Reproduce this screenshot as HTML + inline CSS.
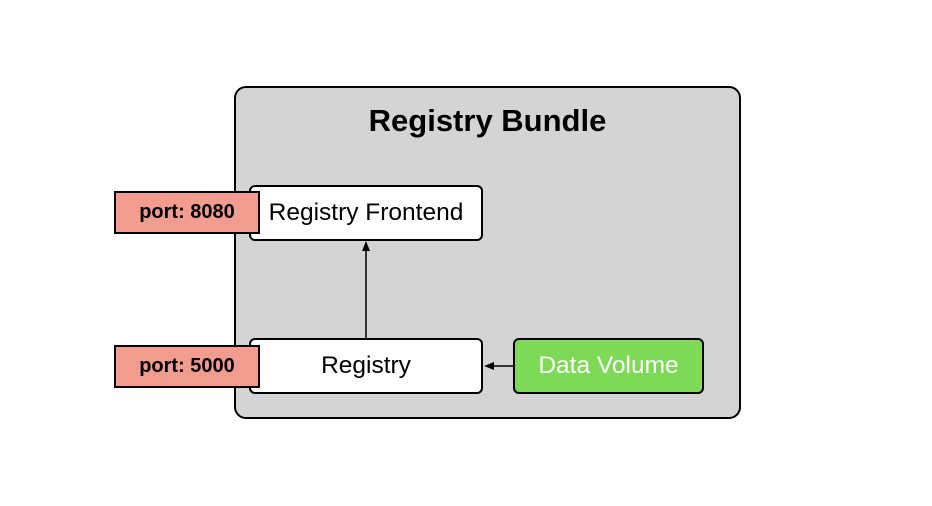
<!DOCTYPE html>
<html><head><style>
body{margin:0;width:932px;height:506px;background:#fff;position:relative;overflow:hidden;font-family:"Liberation Sans",sans-serif}
div{position:absolute;box-sizing:border-box;display:flex;align-items:center;justify-content:center;white-space:nowrap}
</style></head><body>
<div style="left:234px;top:86px;width:507px;height:333px;background:#d4d4d4;border:2px solid #000;border-radius:12px;align-items:flex-start;padding-top:15px;font-weight:bold;font-size:31px">Registry Bundle</div>
<div style="left:249px;top:185px;width:234px;height:56px;background:#fff;border:2px solid #000;border-radius:6px;font-size:24.5px">Registry Frontend</div>
<div style="left:249px;top:338px;width:234px;height:56px;background:#fff;border:2px solid #000;border-radius:6px;font-size:24.5px">Registry</div>
<div style="left:513px;top:338px;width:191px;height:56px;background:#7ed957;border:2px solid #000;border-radius:6px;font-size:24.5px;color:#fff">Data Volume</div>
<div style="left:114px;top:191px;width:146px;height:43px;background:#f19c8f;border:2px solid #000;font-weight:bold;font-size:20px">port: 8080</div>
<div style="left:114px;top:345px;width:146px;height:43px;background:#f19c8f;border:2px solid #000;font-weight:bold;font-size:20px">port: 5000</div>
<svg width="932" height="506" style="position:absolute;left:0;top:0">
<line x1="366" y1="338" x2="366" y2="250" stroke="#000" stroke-width="1.5"/>
<polygon points="366,241 362,251 370,251" fill="#000"/>
<line x1="513" y1="366" x2="492" y2="366" stroke="#000" stroke-width="1.5"/>
<polygon points="484,366 494,362 494,370" fill="#000"/>
</svg>
</body></html>
